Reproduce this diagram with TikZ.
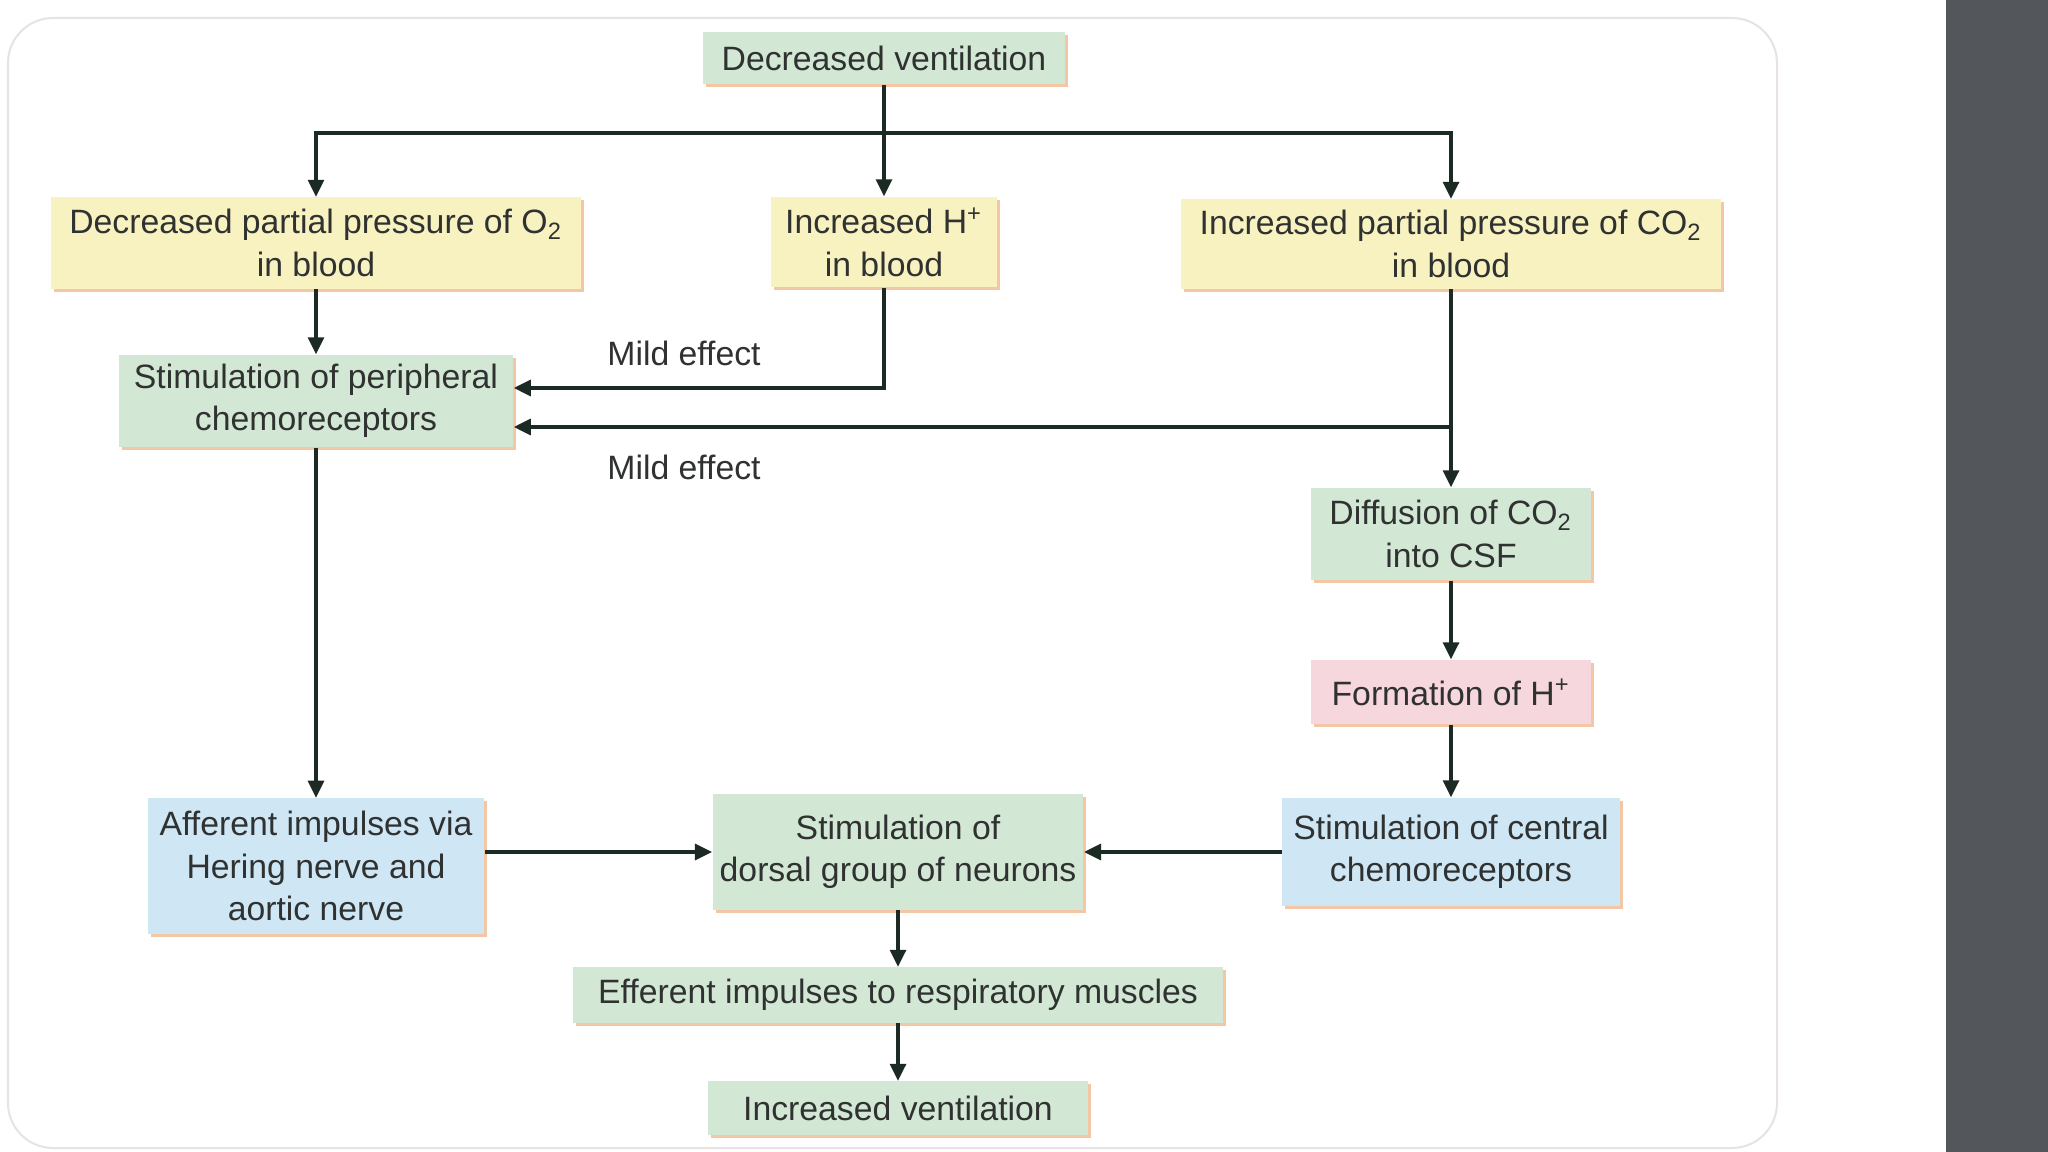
\documentclass[tikz,border=0pt]{standalone}
\usepackage{fontspec}
\setmainfont{Liberation Sans}
\usepackage{tikz}
\usetikzlibrary{arrows.meta,shadows}
\definecolor{gfill}{HTML}{D3E7D5}
\definecolor{yfill}{HTML}{F7F2C0}
\definecolor{pfill}{HTML}{F6D7DD}
\definecolor{bfill}{HTML}{CFE6F5}
\definecolor{shade}{HTML}{F3C6A6}
\definecolor{ink}{HTML}{303232}
\definecolor{arrowc}{HTML}{1C2A24}
\definecolor{band}{HTML}{53575B}
\definecolor{frame}{HTML}{E8E2E3}

\begin{document}
\begin{tikzpicture}[x=0.01cm,y=-0.01cm]
					\tikzstyle{box}=[rectangle,align=center,inner sep=2pt,text=ink,font=\fontsize{9.6}{12}\selectfont,drop shadow={shadow xshift=0.03cm,shadow yshift=-0.03cm,fill=shade,opacity=1}]
					\tikzstyle{gbox}=[box,fill=gfill]
					\tikzstyle{ybox}=[box,fill=yfill]
					\tikzstyle{pbox}=[box,fill=pfill]
					\tikzstyle{bbox}=[box,fill=bfill]
					\tikzstyle{lbl}=[text=ink,font=\fontsize{9.6}{12}\selectfont]
					\tikzstyle{arr}=[-{Triangle[length=0.17cm,width=0.16cm]},line width=0.033cm,draw=arrowc]
					\useasboundingbox (0,0) rectangle (2048,1152);
					\fill[white] (0,0) rectangle (2048,1152);
					\draw[frame,line width=0.02cm,rounded corners=0.45cm] (8,18) rectangle (1777,1148);
					\fill[band] (1946,0) rectangle (2048,1152);
					\node[gbox,minimum width=3.62cm,minimum height=0.52cm] (1) at (884,58) {Decreased ventilation};
					\node[ybox,minimum width=5.30cm,minimum height=0.91cm] (2) at (316,243) {Decreased partial pressure of O\textsubscript{2}\\in blood};
					\node[ybox,minimum width=2.26cm,minimum height=0.90cm] (3) at (884,242) {Increased H\textsuperscript{+}\\in blood};
					\node[ybox,minimum width=5.39cm,minimum height=0.89cm] (4) at (1451,244) {Increased partial pressure of CO\textsubscript{2}\\in blood};
					\node[gbox,minimum width=3.94cm,minimum height=0.92cm] (5) at (316,401) {Stimulation of peripheral\\chemoreceptors};
					\node[gbox,minimum width=2.80cm,minimum height=0.92cm] (6) at (1451,534) {Diffusion of CO\textsubscript{2}\\into CSF};
					\node[pbox,minimum width=2.80cm,minimum height=0.64cm] (7) at (1451,692) {Formation of H\textsuperscript{+}};
					\node[bbox,minimum width=3.37cm,minimum height=1.08cm] (8) at (1451,852) {Stimulation of central\\chemoreceptors};
					\node[bbox,minimum width=3.36cm,minimum height=1.35cm] (9) at (316,866) {Afferent impulses via\\Hering nerve and\\aortic nerve};
					\node[gbox,minimum width=3.70cm,minimum height=1.15cm] (10) at (898,852) {Stimulation of\\dorsal group of neurons};
					\node[gbox,minimum width=6.50cm,minimum height=0.55cm] (11) at (898,995) {Efferent impulses to respiratory muscles};
					\node[gbox,minimum width=3.80cm,minimum height=0.53cm] (12) at (898,1108) {Increased ventilation};
					\node[lbl] (m1) at (684,353) {Mild effect};
					\node[lbl] (m2) at (684,467) {Mild effect};
					\coordinate (j) at (884,133);
					\coordinate (k) at (1451,427);
					\draw[arr] (1) -- (3);
					\draw[arr] (j) -| (2);
					\draw[arr] (j) -| (4);
					\draw[arr] (2) -- (5);
					\draw[arr] (3.south) |- ([yshift=0.13cm]5.east);
					\draw[arr] (4) -- (6);
					\draw[arr] (k) -- (k -| 5.east);
					\draw[arr] (6) -- (7);
					\draw[arr] (7) -- (8);
					\draw[arr] (5) -- (9);
					\draw[arr] (9.east |- 10.west) -- (10.west);
					\draw[arr] (8) -- (10);
					\draw[arr] (10) -- (11);
					\draw[arr] (11) -- (12);
					\end{tikzpicture}
\end{document}
